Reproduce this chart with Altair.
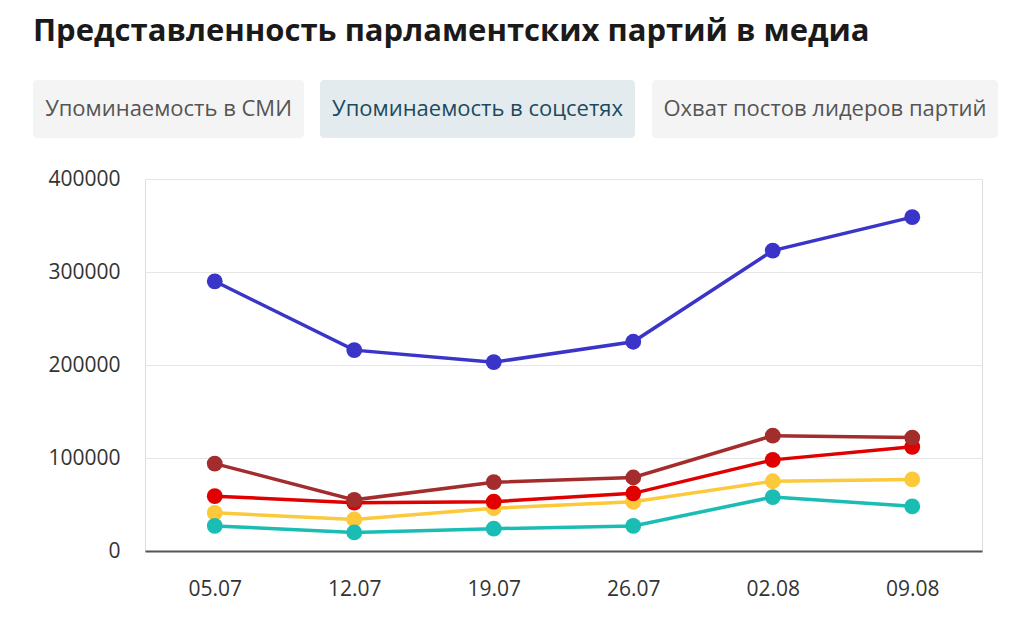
import altair as alt
import pandas as pd

dates = ["05.07", "12.07", "19.07", "26.07", "02.08", "09.08"]
parties = ["Единая Россия", "КПРФ", "Справедливая Россия", "ЛДПР", "Новые люди"]
colors = ["#3a35c8", "#a32c2c", "#e00000", "#fcc93a", "#19bdb3"]

values = {
    "Единая Россия": [290000, 216000, 203000, 225000, 323000, 359000],
    "КПРФ": [94000, 55000, 74000, 79000, 124000, 122000],
    "Справедливая Россия": [59000, 52000, 53000, 62000, 98000, 112000],
    "ЛДПР": [41000, 34000, 46000, 53000, 75000, 77000],
    "Новые люди": [27000, 20000, 24000, 27000, 58000, 48000],
}
draw_order = ["ЛДПР", "Новые люди", "Справедливая Россия", "КПРФ", "Единая Россия"]

tabs = ["Упоминаемость в СМИ", "Упоминаемость в соцсетях", "Охват постов лидеров партий"]
active_tab = 1

rows = []
for p in draw_order:
    for d, v in zip(dates, values[p]):
        rows.append({"date": d, "party": p, "value": v})
df = pd.DataFrame(rows)

FONT = "Open Sans"

x = alt.X("date:O", sort=dates, title=None,
          scale=alt.Scale(type="point", padding=0.5),
          axis=alt.Axis(labelAngle=0, ticks=False, grid=False, domain=True,
                        domainColor="#555555", domainWidth=2,
                        labelPadding=27, labelFontSize=21, labelColor="#333333",
                        labelFont=FONT))
y = alt.Y("value:Q", title=None,
          scale=alt.Scale(domain=[0, 400000]),
          axis=alt.Axis(values=[0, 100000, 200000, 300000, 400000], format="d",
                        ticks=False, domain=False, gridColor="#e6e6e6",
                        gridWidth=1, labelPadding=25, labelFontSize=21,
                        labelColor="#333333", labelFont=FONT))
color = alt.Color("party:N", scale=alt.Scale(domain=parties, range=colors), legend=None)

base = alt.Chart(df)
lines = base.mark_line(strokeWidth=3.5).encode(x=x, y=y, color=color, detail="party:N")
points = base.mark_circle(size=250, opacity=1).encode(x=x, y=y, color=color)

# tab decorations (UI chrome above the plot)
tab_boxes = [(-112, 159), (175, 490), (507, 853)]
layers = []
for i, (t, (a, b)) in enumerate(zip(tabs, tab_boxes)):
    tdf = pd.DataFrame({"label": [t]})
    fill = "#e4ebef" if i == active_tab else "#f4f4f4"
    tcol = "#1c4a5c" if i == active_tab else "#555555"
    r = alt.Chart(tdf).mark_rect(fill=fill, cornerRadius=4).encode(
        x=alt.value(a), x2=alt.value(b), y=alt.value(-99), y2=alt.value(-41))
    tx = alt.Chart(tdf).mark_text(font=FONT, fontSize=22, color=tcol,
                                  align="center", baseline="middle").encode(
        x=alt.value((a + b) / 2), y=alt.value(-70), text="label:N")
    layers += [r, tx]

chart = alt.layer(*layers, lines, points).properties(
    width=837, height=372,
    title=alt.TitleParams("Представленность парламентских партий в медиа",
                          anchor="start", frame="group", dx=-112, offset=32,
                          font=FONT, fontSize=31, fontWeight="bold", color="#1a1a1a"),
    autosize=alt.AutoSizeParams(type="none"),
    padding={"left": 137, "top": 171, "right": 30, "bottom": 50},
).configure_view(stroke="transparent", strokeWidth=0, strokeOpacity=0).configure(background="white")

chart.save("out.html", embed_options={"renderer": "svg", "actions": False})
